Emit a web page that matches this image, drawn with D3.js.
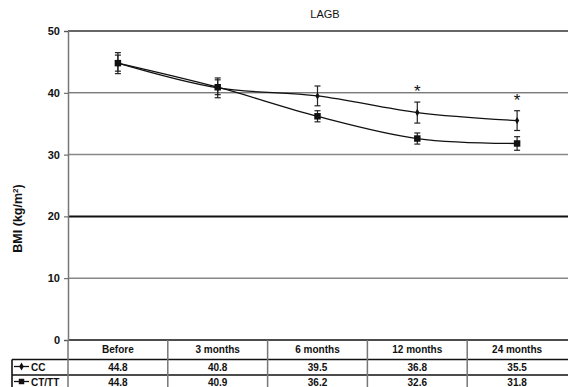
<!DOCTYPE html>
<html>
<head>
<meta charset="utf-8">
<script src="https://cdn.jsdelivr.net/npm/d3@7"></script>
<style>
  body { margin: 0; background: #fff; }
  text { font-family: "Liberation Sans", Arial, sans-serif; fill: #111; }
</style>
</head>
<body>
<div class="chart"></div>
<script>
const W = 568, H = 387;

// Data
const periods = ["Before", "3 months", "6 months", "12 months", "24 months"];
const ccMean = [44.8, 40.8, 39.5, 36.8, 35.5];
const ccErr = [1.7, 1.6, 1.6, 1.7, 1.6];
const ctMean = [44.8, 40.9, 36.2, 32.6, 31.8];
const ctErr = [1.3, 1.2, 0.9, 0.9, 1.1];
const starred = ["12 months", "24 months"];
const yTicks = [0, 10, 20, 30, 40, 50];

const svg = d3.select(".chart").append("svg")
  .attr("width", W).attr("height", H);

const plotLeft = 68, plotRight = 567, plotTop = 31, plotBottom = 340;

const x = d3.scaleBand().domain(periods).range([plotLeft, plotRight]);
const xc = d => x(d) + x.bandwidth() / 2;
const y = d3.scaleLinear().domain([0, 50]).range([plotBottom, plotTop]);

// gridlines (styles vary like the scan)
const gridStyle = {
  50: ["#333", 1.6], 40: ["#444", 1], 30: ["#888", 1.5],
  20: ["#111", 2], 10: ["#888", 1.5], 0: ["#111", 1.6]
};
svg.append("g").selectAll("line").data(yTicks).join("line")
  .attr("x1", plotLeft).attr("x2", W)
  .attr("y1", d => y(d)).attr("y2", d => y(d))
  .attr("stroke", d => gridStyle[d][0])
  .attr("stroke-width", d => gridStyle[d][1]);

// y axis
const yAxis = svg.append("g").attr("transform", `translate(${plotLeft},0)`)
  .call(d3.axisLeft(y).tickValues(yTicks).tickSize(4).tickPadding(4));
yAxis.select(".domain").attr("stroke", "#777").attr("stroke-width", 1.5);
yAxis.selectAll(".tick line").attr("stroke", "#555");
yAxis.selectAll("text").attr("font-size", 11).attr("font-weight", "bold")
  .attr("font-family", "Liberation Sans, Arial, sans-serif").attr("fill", "#222");

svg.append("text")
  .attr("transform", `translate(22,${(plotTop + plotBottom) / 2 + 33}) rotate(-90)`)
  .attr("text-anchor", "middle").attr("font-size", 12.5).attr("font-weight", "bold")
  .html('BMI (kg/m<tspan baseline-shift="super" font-size="8">2</tspan>)');

svg.append("text").attr("x", 325).attr("y", 18)
  .attr("text-anchor", "middle").attr("font-size", 11).text("LAGB");

// series
const series = [
  { name: "CC", mean: ccMean, err: ccErr, marker: "diamond" },
  { name: "CT/TT", mean: ctMean, err: ctErr, marker: "square" }
];

const line = d3.line().x((d, i) => xc(periods[i])).y(d => y(d))
  .curve(d3.curveCatmullRom.alpha(0.5));

series.forEach(s => {
  svg.append("path").attr("d", line(s.mean))
    .attr("fill", "none").attr("stroke", "#111").attr("stroke-width", 1.3);

  const g = svg.append("g");
  s.mean.forEach((m, i) => {
    const cx = xc(periods[i]);
    const y1 = y(m + s.err[i]), y2 = y(m - s.err[i]);
    g.append("line").attr("x1", cx).attr("x2", cx).attr("y1", y1).attr("y2", y2)
      .attr("stroke", "#222").attr("stroke-width", 1.2);
    [y1, y2].forEach(yy => g.append("line")
      .attr("x1", cx - 3).attr("x2", cx + 3).attr("y1", yy).attr("y2", yy)
      .attr("stroke", "#222").attr("stroke-width", 1.2));
    g.append("path")
      .attr("transform", `translate(${cx},${y(m)})`)
      .attr("d", d3.symbol(s.marker === "square" ? d3.symbolSquare : d3.symbolDiamond,
        s.marker === "square" ? 42 : 16)())
      .attr("fill", "#111");
  });
});

// significance asterisks
svg.append("g").selectAll("text").data(starred).join("text")
  .attr("x", d => xc(d))
  .attr("y", d => y(ccMean[periods.indexOf(d)] + ccErr[periods.indexOf(d)]) - 5)
  .attr("text-anchor", "middle").attr("font-size", 17).text("*");

// data table
const rowTop = plotBottom;
const rowLines = [359.5, 375];
const textY = [352.5, 370.5, 385.5];
const table = svg.append("g");
table.selectAll(".hl").data(rowLines).join("line")
  .attr("x1", 12).attr("x2", W).attr("y1", d => d).attr("y2", d => d)
  .attr("stroke", "#111").attr("stroke-width", 1.6);
table.append("line").attr("x1", 12).attr("x2", 12)
  .attr("y1", rowLines[0]).attr("y2", H).attr("stroke", "#111").attr("stroke-width", 1.6);
table.selectAll(".vl").data(periods).join("line")
  .attr("x1", d => x(d)).attr("x2", d => x(d))
  .attr("y1", rowTop).attr("y2", H)
  .attr("stroke", "#777").attr("stroke-width", 1.5);

table.selectAll(".hd").data(periods).join("text")
  .attr("x", d => xc(d)).attr("y", textY[0])
  .attr("text-anchor", "middle").attr("font-size", 10).attr("font-weight", "bold")
  .text(d => d);

series.forEach((s, r) => {
  const ty = textY[r + 1];
  table.selectAll(".v" + r).data(s.mean).join("text")
    .attr("x", (d, i) => xc(periods[i])).attr("y", ty)
    .attr("text-anchor", "middle").attr("font-size", 10).attr("font-weight", "bold")
    .text(d => d.toFixed(1));
  const my = ty - 4;
  table.append("line").attr("x1", 14).attr("x2", 29).attr("y1", my).attr("y2", my)
    .attr("stroke", "#111").attr("stroke-width", 1.3);
  table.append("path").attr("transform", `translate(21.5,${my})`)
    .attr("d", d3.symbol(s.marker === "square" ? d3.symbolSquare : d3.symbolDiamond,
      s.marker === "square" ? 30 : 18)())
    .attr("fill", "#111");
  table.append("text").attr("x", 31).attr("y", ty)
    .attr("font-size", 10).attr("font-weight", "bold").text(s.name);
});
</script>
</body>
</html>
